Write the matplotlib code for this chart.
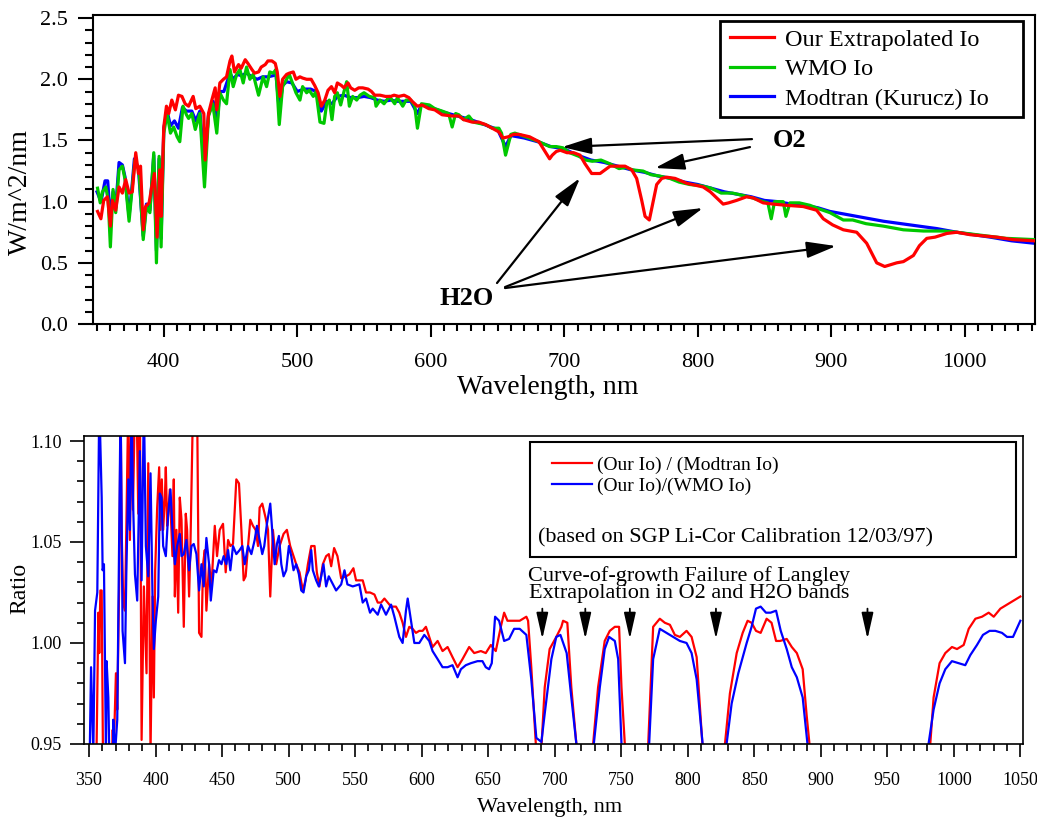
#!/usr/bin/env python3
"""
Extrapolated solar Io vs WMO / Modtran spectra, plus the ratio panel.
"""

import matplotlib
matplotlib.use('Agg')
import matplotlib.pyplot as plt
from matplotlib.ticker import MultipleLocator
from matplotlib.patches import Rectangle

plt.rcParams['font.family'] = ['Liberation Serif', 'DejaVu Serif']

# ---------------- top panel: irradiance, W/m^2/nm ----------------
our_nm = [350.4, 352.9, 355, 357.8, 360, 361.5, 364, 366.5, 369, 371.5, 374, 376.4, 379, 381,
          382.6, 384.6, 386.4, 389, 391, 393, 395, 397, 398, 400, 402, 403.7, 406, 408.7, 411,
          413.6, 416, 418.6, 422, 424, 427, 430, 431, 433.5, 436, 438.5, 439.7, 442, 444.7, 447,
          449.6, 451, 453, 456, 458, 461, 463, 466, 468, 471, 473, 476, 478, 481, 483.5, 485, 487,
          489, 492, 494, 497, 499, 502, 504, 507, 510.4, 513, 515.6, 518, 520.6, 523, 525.6, 528,
          530, 533, 535, 538, 540, 543, 546, 549, 553, 555.6, 558, 562, 566, 570, 572.5, 576, 580,
          583.6, 586, 590, 593.5, 598.5, 603, 608.5, 616, 621, 624.6, 631, 636, 641, 646, 651,
          654, 658, 662, 666, 674, 681, 685, 689, 691, 694, 697, 702, 707, 711.8, 715.5, 720.5,
          726.8, 734.3, 745.5, 750.5, 754.2, 758, 760.5, 763.7, 766.7, 769.2, 773, 776.7, 783,
          791.7, 804, 809.4, 814.2, 819, 823, 829, 836.6, 841.6, 849, 856.6, 866.6, 879, 889, 894,
          901, 909, 919, 926.5, 934, 940, 949, 954, 961.5, 966, 971.5, 977.7, 986.5, 994, 1004,
          1014, 1024, 1036, 1052]
our_io = [0.92, 0.86, 1.01, 1.04, 0.80, 1.01, 0.93, 1.12, 1.07, 1.18, 1.07, 1.08, 1.40, 1.23,
          1.29, 0.77, 0.96, 0.99, 1.12, 1.23, 0.71, 1.26, 0.88, 1.61, 1.78, 1.72, 1.83, 1.75, 1.87,
          1.86, 1.80, 1.78, 1.86, 1.76, 1.78, 1.72, 1.34, 1.72, 1.83, 1.93, 1.75, 1.97, 2.00, 2.02,
          2.15, 2.19, 2.06, 2.12, 2.09, 2.16, 2.13, 2.08, 2.05, 2.06, 2.10, 2.12, 2.15, 2.15, 2.13,
          2.06, 1.86, 2.00, 2.04, 2.05, 2.06, 2.00, 2.02, 2.01, 2.00, 2.00, 1.95, 1.89, 1.78, 1.83,
          1.91, 1.94, 1.89, 1.97, 1.95, 1.93, 1.97, 1.93, 1.91, 1.93, 1.93, 1.92, 1.90, 1.87, 1.87,
          1.86, 1.86, 1.87, 1.86, 1.87, 1.85, 1.82, 1.78, 1.79, 1.76, 1.75, 1.71, 1.70, 1.70, 1.67,
          1.65, 1.65, 1.63, 1.60, 1.57, 1.52, 1.53, 1.55, 1.55, 1.53, 1.49, 1.42, 1.35, 1.38, 1.41,
          1.42, 1.40, 1.40, 1.38, 1.31, 1.23, 1.23, 1.29, 1.29, 1.26, 1.19, 1.01, 0.88, 0.85, 1.01,
          1.14, 1.19, 1.20, 1.19, 1.15, 1.12, 1.08, 1.03, 0.98, 0.99, 1.01, 1.04, 1.03, 0.99, 0.98,
          0.97, 0.96, 0.93, 0.86, 0.81, 0.77, 0.75, 0.66, 0.50, 0.47, 0.50, 0.51, 0.56, 0.64, 0.70,
          0.71, 0.74, 0.75, 0.73, 0.72, 0.71, 0.69, 0.68]

wmo_nm = [350.4, 352.4, 354, 356.6, 358.4, 360, 362, 364, 366.5, 369, 371, 374, 376.4, 378.4,
          381.4, 384.6, 387, 389.6, 392.5, 394.5, 396.5, 398, 400, 402.5, 405, 407.4, 410, 412,
          414.4, 417, 418.6, 421, 423.6, 427, 430.5, 433.5, 436.7, 439.7, 442, 444.7, 447, 449.6,
          452, 454.6, 457, 459.5, 462, 464.5, 467, 471, 474.4, 477, 479.4, 482, 484, 486.5, 489,
          492, 494, 497, 499, 502, 504, 507, 509, 512, 514, 517, 520, 522, 524, 526, 528, 530,
          532.5, 535, 537, 539, 541.5, 544.5, 547, 550, 554, 558, 559, 562, 565, 569, 573, 575,
          579, 581.5, 585, 588, 590, 593, 599, 603, 608.5, 613.4, 616, 618.6, 621, 624.6, 628.5,
          632, 636, 641, 646, 651, 653, 656, 660, 663, 671, 681, 689, 694, 699, 704, 711, 716,
          721, 727.5, 734, 741, 746, 751, 759, 765, 771, 779, 786, 794, 802.5, 810, 817.5, 826,
          834, 841, 849, 852.5, 855, 857.5, 864, 866, 869, 876, 884, 891, 899, 909, 916, 926, 939,
          954, 969, 984, 994, 1009, 1031, 1052]
wmo_io = [1.11, 0.99, 1.08, 1.12, 1.01, 0.63, 1.10, 0.91, 1.26, 1.29, 1.18, 0.84, 1.12, 1.34,
          1.26, 0.69, 0.96, 0.91, 1.40, 0.50, 1.37, 0.63, 1.56, 1.72, 1.56, 1.61, 1.53, 1.49,
          1.78, 1.71, 1.68, 1.72, 1.59, 1.72, 1.12, 1.70, 1.80, 1.56, 1.89, 1.83, 1.80, 2.08,
          1.94, 2.04, 2.08, 1.97, 2.10, 2.00, 2.04, 1.87, 2.02, 1.94, 2.06, 2.05, 2.08, 1.63, 1.94,
          2.00, 2.04, 1.95, 1.89, 1.83, 1.94, 1.89, 1.91, 1.86, 1.90, 1.65, 1.64, 1.80, 1.83, 1.67,
          1.86, 1.89, 1.79, 1.90, 1.98, 1.78, 1.86, 1.83, 1.87, 1.89, 1.86, 1.85, 1.78, 1.83, 1.80,
          1.86, 1.80, 1.85, 1.78, 1.83, 1.83, 1.78, 1.60, 1.80, 1.79, 1.76, 1.74, 1.72, 1.61, 1.72,
          1.71, 1.67, 1.70, 1.65, 1.64, 1.63, 1.60, 1.60, 1.56, 1.38, 1.55, 1.56, 1.53, 1.49, 1.45,
          1.45, 1.44, 1.40, 1.37, 1.34, 1.33, 1.34, 1.31, 1.27, 1.28, 1.26, 1.25, 1.22, 1.21, 1.19,
          1.16, 1.14, 1.13, 1.11, 1.07, 1.07, 1.05, 1.03, 1.00, 0.99, 0.86, 1.00, 1.00, 0.88, 0.99,
          0.99, 0.97, 0.94, 0.91, 0.85, 0.85, 0.82, 0.80, 0.77, 0.76, 0.76, 0.75, 0.73, 0.70, 0.69]

mod_nm = [350, 353, 356, 358, 360, 362, 364, 366.5, 369, 371, 374, 376, 378, 381, 384.6, 387,
          389.6, 392.5, 394.5, 396.5, 398, 400, 402.5, 405, 408, 411, 414, 417, 421, 424, 427,
          430.5, 433.5, 437, 440, 442, 445, 449.6, 452, 455, 458, 462, 466, 470, 474, 478, 482,
          484, 486.5, 489, 492, 496, 500, 505, 510, 514, 518, 522, 526, 530, 535, 540, 545, 550,
          555, 560, 565, 570, 575, 580, 585, 590, 593, 600, 610, 620, 630, 640, 650, 656, 660,
          670, 680, 690, 700, 710, 720, 730, 740, 750, 760, 770, 780, 790, 800, 810, 820, 830,
          840, 850, 860, 870, 880, 890, 899, 919, 939, 959, 979, 994, 1019, 1035, 1052]
mod_io = [1.08, 1.00, 1.17, 1.17, 0.85, 1.08, 0.95, 1.32, 1.30, 1.20, 0.88, 1.10, 1.35, 1.27,
          0.72, 0.98, 0.93, 1.38, 0.60, 1.35, 0.70, 1.60, 1.74, 1.62, 1.66, 1.60, 1.77, 1.74,
          1.74, 1.66, 1.74, 1.30, 1.71, 1.82, 1.66, 1.90, 1.90, 2.05, 2.00, 2.04, 2.03, 2.05,
          2.02, 2.00, 2.02, 2.02, 2.03, 2.04, 1.75, 1.95, 1.98, 1.97, 1.90, 1.92, 1.92, 1.90,
          1.74, 1.82, 1.80, 1.86, 1.87, 1.85, 1.85, 1.86, 1.85, 1.83, 1.82, 1.83, 1.82, 1.82,
          1.82, 1.72, 1.79, 1.77, 1.73, 1.70, 1.67, 1.63, 1.59, 1.45, 1.54, 1.52, 1.49, 1.45,
          1.43, 1.38, 1.34, 1.32, 1.29, 1.26, 1.24, 1.21, 1.19, 1.16, 1.14, 1.11, 1.08, 1.06,
          1.04, 1.01, 1.00, 0.98, 0.97, 0.95, 0.92, 0.88, 0.84, 0.81, 0.78, 0.75, 0.71, 0.68, 0.66]

# ---------------- bottom panel: ratios ----------------
rmod_nm = [355.5, 357, 357.7, 358.5, 359.5, 360.5, 367, 367.8, 368.5, 370.2, 371.2, 372.7, 373.7,
           374.5, 375.7, 377, 378, 379.5, 380.7, 382, 383, 384.5, 385.7, 387, 388.2, 389.5, 391.2,
           393.2, 394.5, 396.2, 397.7, 398.7, 399.7, 401.2, 402.7, 403.7, 404.7, 405.7, 407, 407.7,
           408.7, 409.5, 410.7, 412.7, 413.7, 414.5, 415.7, 417, 418.2, 419.5, 421.2, 422.7, 423.7,
           425.2, 426.2, 428.2, 430.2, 431.2, 432.7, 434.5, 435.7, 437, 438.2, 440.2, 442, 444.5,
           446.2, 448.2, 450.7, 452.7, 454.5, 456.2, 458.2, 460.7, 462.7, 464.5, 466.2, 467.7,
           469.5, 471.2, 473.2, 475.2, 477, 478.2, 480.2, 482.7, 484.5, 486.2, 488.2, 490.7, 493.2,
           496.2, 498.7, 501.2, 503.2, 505.7, 508.2, 510.7, 512.7, 514.5, 517, 519.5, 521.2, 523.2,
           525.7, 528.2, 530.2, 532, 534.2, 536.7, 539.5, 543.2, 545.7, 548.7, 550.7, 555.7, 558.2,
           561.2, 564.5, 567, 569.5, 572, 574.5, 577, 580.7, 583.2, 585.7, 588.2, 590.7, 593.2,
           595.7, 598.2, 600.7, 603.2, 605.7, 608.2, 612, 615.7, 619.5, 623.2, 627, 630.7, 635.7,
           639.5, 644.5, 648.2, 652, 655.7, 659.5, 662, 664.5, 669.5, 673.7, 676.2, 678.7, 680,
           682.4, 686, 688, 690, 692.5, 696.2, 701.2, 705, 706.3, 709.5, 712.5, 716.3, 719, 726,
           728.9, 732.6, 737.6, 741.4, 745.2, 748.4, 750.2, 752.7, 756, 767, 770.3, 774, 779,
           782.8, 786.6, 790.3, 794.1, 799.1, 802.9, 806.7, 811, 814, 825, 828, 831.7, 836.8,
           841.3, 845, 848, 851.3, 854.8, 859.3, 863, 866.4, 869.4, 874.4, 878.2, 882, 886.4,
           889.4, 891.5, 895, 978, 982.3, 984.8, 989.3, 993.6, 998.6, 1002.4, 1007.4, 1011.2,
           1016.2, 1021.2, 1026.2, 1030, 1035, 1040, 1045, 1050]
rmod = [0.94, 1.015, 0.995, 1.026, 1.026, 0.94, 0.94, 0.957, 0.945, 0.985, 0.967, 1.031, 1.12,
        1.056, 1.020, 1.016, 1.056, 1.12, 1.051, 1.12, 1.066, 1.12, 1.12, 1.064, 1.12, 0.952,
        1.028, 0.985, 1.089, 0.945, 1.023, 0.973, 1.036, 1.067, 1.087, 1.056, 1.081, 1.056, 1.072,
        1.087, 1.058, 1.064, 1.076, 1.043, 1.081, 1.023, 1.056, 1.015, 1.072, 1.061, 1.008, 1.064,
        1.056, 1.023, 1.048, 1.12, 1.12, 1.12, 1.005, 1.003, 1.039, 1.046, 1.016, 1.039, 1.028,
        1.058, 1.043, 1.056, 1.059, 1.035, 1.051, 1.048, 1.049, 1.081, 1.079, 1.056, 1.031, 1.033,
        1.048, 1.061, 1.058, 1.056, 1.048, 1.067, 1.069, 1.062, 1.056, 1.023, 1.056, 1.039, 1.048,
        1.054, 1.056, 1.048, 1.044, 1.039, 1.035, 1.026, 1.031, 1.039, 1.048, 1.048, 1.035, 1.028,
        1.039, 1.043, 1.044, 1.038, 1.047, 1.043, 1.032, 1.033, 1.034, 1.037, 1.031, 1.031, 1.025,
        1.025, 1.024, 1.020, 1.020, 1.022, 1.020, 1.018, 1.018, 1.015, 1.010, 1.003, 1.008, 1.007,
        1.005, 1.006, 1.006, 1.008, 1.003, 0.998, 1.001, 0.996, 0.998, 0.993, 0.988, 0.992, 0.998,
        0.995, 0.996, 0.995, 0.999, 0.996, 1.008, 1.015, 1.011, 1.011, 1.011, 1.012, 1.013, 1.011,
        0.988, 0.948, 0.94, 0.948, 0.978, 0.997, 1.003, 1.008, 1.011, 1.010, 0.978, 0.95, 0.93,
        0.93, 0.95, 0.978, 1.001, 1.006, 1.008, 1.008, 0.978, 0.95, 0.93, 0.93, 0.95, 1.008, 1.012,
        1.010, 1.009, 1.004, 1.003, 1.006, 1.003, 0.993, 0.95, 0.93, 0.93, 0.95, 0.975, 0.995,
        1.005, 1.011, 1.010, 1.006, 1.005, 1.012, 1.010, 1.001, 1.001, 1.002, 0.998, 0.995, 0.987,
        0.964, 0.95, 0.92, 0.92, 0.95, 0.973, 0.990, 0.995, 0.998, 0.997, 0.999, 1.007, 1.012,
        1.013, 1.015, 1.013, 1.017, 1.019, 1.021, 1.023]

rwmo_nm = [350.5, 351.5, 353.2, 354.5, 356.2, 357.7, 359.5, 360.2, 361.2, 362.7, 363.2, 364.5,
           365.2, 368, 368.2, 369.5, 371.2, 372.7, 373.7, 375.2, 377, 378, 379.5, 380.7, 382, 383,
           384.5, 386.2, 388.2, 389.5, 391.2, 392.7, 394.5, 396.2, 397.7, 398.7, 400.2, 402, 403.2,
           404.5, 405.7, 407.7, 409.5, 411.2, 412.7, 414.5, 416.2, 418.2, 419.5, 421.2, 423.2,
           425.2, 427, 428.7, 430.7, 432.7, 434.5, 436.2, 438.2, 440.2, 441.5, 443.7, 445.7, 447.7,
           449.5, 451.2, 453.2, 454.5, 456.2, 458.2, 460.7, 463.2, 465.2, 467, 469.5, 472, 474.5,
           476.2, 478.2, 480.2, 481.7, 483.7, 486.2, 488.2, 489.5, 491.2, 492.7, 494.5, 496.2,
           498.2, 500.2, 502, 503.7, 505.7, 507.7, 509.5, 511.2, 513.2, 515.2, 517, 518.2, 520.7,
           522.7, 524.5, 526.2, 528.2, 530.2, 535.7, 539.5, 542, 544.2, 548.2, 553.2, 555.7, 558.2,
           561.2, 563.2, 567, 569.5, 573.2, 577, 579.5, 583.2, 585.7, 588.2, 589.5, 592, 594.5,
           598.2, 602, 605.7, 608.2, 612, 615.7, 619.5, 623.2, 627, 629.5, 633.2, 637, 642, 645.7,
           648.2, 650.7, 652.7, 655.2, 658.2, 662, 665.7, 669.5, 673.7, 678.7, 682.4, 686.2, 690,
           692.5, 697.5, 701.2, 704.3, 709, 712.5, 716.3, 719, 727, 729.4, 733.9, 737.6, 740.9,
           745.2, 747.7, 750.2, 753, 768, 771, 774, 779, 784, 789, 794.1, 799.1, 802.9, 806.7,
           811.2, 814, 826, 829.2, 833, 838, 844.3, 848, 851.3, 854.8, 858.8, 862.3, 866.4, 869.9,
           874.4, 878.2, 882, 886.4, 890, 894, 977, 981, 984.8, 989.3, 993.6, 998.6, 1003.6,
           1008.6, 1012.4, 1017.4, 1021.9, 1026.9, 1031.2, 1036.2, 1040, 1044.5, 1050]
rwmo = [0.945, 0.988, 0.945, 1.016, 1.025, 1.12, 1.072, 1.036, 1.039, 0.945, 0.991, 0.973, 0.945,
        0.945, 0.962, 0.945, 0.962, 1.056, 1.12, 1.006, 0.99, 1.034, 1.081, 1.056, 1.12, 1.072,
        1.034, 1.021, 1.095, 1.031, 1.12, 1.048, 1.033, 1.084, 1.023, 0.997, 1.011, 1.023, 1.074,
        1.072, 1.048, 1.043, 1.064, 1.076, 1.056, 1.039, 1.048, 1.054, 1.043, 1.044, 1.051, 1.036,
        1.048, 1.049, 1.044, 1.026, 1.039, 1.028, 1.052, 1.039, 1.021, 1.036, 1.035, 1.041, 1.039,
        1.043, 1.039, 1.046, 1.036, 1.048, 1.044, 1.046, 1.048, 1.039, 1.048, 1.044, 1.051, 1.058,
        1.051, 1.044, 1.048, 1.059, 1.069, 1.051, 1.039, 1.049, 1.053, 1.039, 1.033, 1.036, 1.048,
        1.043, 1.036, 1.039, 1.034, 1.026, 1.025, 1.033, 1.036, 1.046, 1.036, 1.031, 1.028, 1.033,
        1.039, 1.028, 1.033, 1.026, 1.029, 1.036, 1.029, 1.028, 1.029, 1.020, 1.022, 1.015, 1.017,
        1.014, 1.019, 1.014, 1.019, 1.013, 1.003, 1.000, 1.016, 1.022, 1.011, 1.000, 1.000, 1.004,
        1.001, 0.996, 0.992, 0.988, 0.988, 0.989, 0.983, 0.987, 0.989, 0.990, 0.991, 0.991, 0.988,
        0.987, 0.990, 1.013, 1.011, 1.001, 1.002, 1.007, 1.007, 1.004, 0.982, 0.953, 0.951, 0.965,
        0.992, 1.003, 1.004, 0.995, 0.973, 0.95, 0.93, 0.93, 0.95, 0.978, 0.997, 1.003, 1.001,
        0.992, 0.95, 0.93, 0.93, 0.95, 0.992, 1.007, 1.005, 1.003, 1.001, 1.000, 0.995, 0.982,
        0.95, 0.93, 0.93, 0.95, 0.970, 0.985, 1.000, 1.008, 1.017, 1.018, 1.015, 1.015, 1.016,
        1.006, 0.997, 0.988, 0.983, 0.973, 0.95, 0.92, 0.92, 0.95, 0.967, 0.980, 0.987, 0.991,
        0.990, 0.989, 0.994, 0.999, 1.004, 1.006, 1.006, 1.005, 1.003, 1.003, 1.011]

# wavelengths of the O2 / H2O band markers in the ratio panel
band_nm = [690.7, 723, 756.5, 821.2, 935.1]

RED = '#ff0000'
GREEN = '#00c800'
BLUE = '#0000ff'


def style_axes(ax, xmajor, ymajor, yminor, lw, xlen, ylen, size, xpad, ypad):
    """Boxed frame with outward ticks like the original plotting package."""
    for sp in ax.spines.values():
        sp.set_linewidth(lw)
    ax.xaxis.set_major_locator(MultipleLocator(xmajor))
    ax.xaxis.set_minor_locator(MultipleLocator(10))
    ax.yaxis.set_major_locator(MultipleLocator(ymajor))
    ax.yaxis.set_minor_locator(MultipleLocator(yminor))
    ax.tick_params(axis='both', which='both', direction='out', width=lw,
                   top=False, right=False, labelsize=size)
    ax.tick_params(axis='x', which='major', length=xlen, pad=xpad)
    ax.tick_params(axis='x', which='minor', length=xlen * 0.55)
    ax.tick_params(axis='y', which='major', length=ylen, pad=ypad)
    ax.tick_params(axis='y', which='minor', length=ylen * 0.5)


def draw_top(fig):
    ax = fig.add_axes([0.0897, 0.6034, 0.9084, 0.3782])
    ax.plot(mod_nm, mod_io, color=BLUE, lw=2.3, label='Modtran (Kurucz) Io', zorder=2)
    ax.plot(wmo_nm, wmo_io, color=GREEN, lw=2.3, label='WMO Io', zorder=3)
    ax.plot(our_nm, our_io, color=RED, lw=2.3, label='Our Extrapolated Io', zorder=4)
    ax.set_xlim(347.0, 1052.6)
    ax.set_ylim(0, 2.525)
    style_axes(ax, 100, 0.5, 0.1, 1.5, 9, 11, 16, 12, 7)
    ax.yaxis.set_major_formatter(matplotlib.ticker.FormatStrFormatter('%.1f'))

    ax.set_xlabel('Wavelength, nm', fontsize=20)
    ax.xaxis.set_label_coords(0.483, -0.165)
    ax.set_ylabel('W/m^2/nm', fontsize=20)
    ax.yaxis.set_label_coords(-0.064, 0.427)

    # legend frame drawn separately so it matches the original box size
    ax.add_patch(Rectangle((0.6656, 0.6699), 0.3217, 0.3107, transform=ax.transAxes,
                           facecolor='white', edgecolor='black', lw=2.0, zorder=5))
    handles, labels = ax.get_legend_handles_labels()
    order = [2, 1, 0]
    leg = ax.legend([handles[i] for i in order], [labels[i] for i in order],
                    loc='upper left', bbox_to_anchor=(0.676, 0.955), borderaxespad=0,
                    fontsize=17.5, handlelength=1.8, handletextpad=0.45, labelspacing=0.3,
                    borderpad=0, frameon=False)
    leg.set_zorder(6)

    arrow = dict(arrowstyle='-|>,head_length=1.8,head_width=0.5', color='black',
                 lw=1.6, mutation_scale=10, shrinkA=0, shrinkB=0)
    ax.text(869, 1.503, 'O2', fontsize=19, fontweight='bold', ha='center', va='center')
    ax.annotate('', xy=(698.3, 1.446), xytext=(840.6, 1.511), arrowprops=arrow)
    ax.annotate('', xy=(768.0, 1.275), xytext=(839.1, 1.446), arrowprops=arrow)
    ax.text(627, 0.21, 'H2O', fontsize=19, fontweight='bold', ha='center', va='center')
    ax.annotate('', xy=(711.8, 1.193), xytext=(649.6, 0.335), arrowprops=arrow)
    ax.annotate('', xy=(803.9, 0.948), xytext=(655.6, 0.302), arrowprops=arrow)
    ax.annotate('', xy=(903.6, 0.637), xytext=(655.6, 0.294), arrowprops=arrow)


def draw_bottom(fig):
    ax = fig.add_axes([0.081, 0.0894, 0.9055, 0.377])
    ax.plot(rmod_nm, rmod, color=RED, lw=1.6, label='(Our Io) / (Modtran Io)')
    ax.plot(rwmo_nm, rwmo, color=BLUE, lw=1.6, label='(Our Io)/(WMO Io)')
    ax.set_xlim(346.2, 1052)
    ax.set_ylim(0.95, 1.1025)
    style_axes(ax, 50, 0.05, 0.01, 1.2, 9.4, 10, 13, 11, 6)
    ax.yaxis.set_major_formatter(matplotlib.ticker.FormatStrFormatter('%.2f'))

    ax.set_xlabel('Wavelength, nm', fontsize=16)
    ax.xaxis.set_label_coords(0.496, -0.175)
    ax.set_ylabel('Ratio', fontsize=17)
    ax.yaxis.set_label_coords(-0.0575, 0.506)

    # legend box with the calibration note inside
    ax.add_patch(Rectangle((0.475, 0.607), 0.5175, 0.3735, transform=ax.transAxes,
                           fill=True, facecolor='white', edgecolor='black', lw=1.5, zorder=5))
    ax.legend(loc='upper left', bbox_to_anchor=(0.4984, 0.935), borderaxespad=0,
              borderpad=0, frameon=False, fontsize=14, handlelength=2.05,
              handletextpad=0.25, labelspacing=0.2).set_zorder(6)
    ax.text(0.4835, 0.669, '(based on SGP Li-Cor Calibration 12/03/97)', transform=ax.transAxes,
            fontsize=16, ha='left', va='center', zorder=6)

    ax.text(800.9, 1.029, 'Curve-of-growth Failure of Langley\nExtrapolation in O2 and H2O bands',
            fontsize=16, ha='center', va='center', linespacing=0.88)
    arrow = dict(arrowstyle='-|>,head_length=1.6,head_width=0.36', color='black',
                 lw=1.3, mutation_scale=10, shrinkA=0, shrinkB=0)
    for nm in band_nm:
        ax.annotate('', xy=(nm, 1.002), xytext=(nm, 1.017), arrowprops=arrow)


def main():
    fig = plt.figure(figsize=(10.37, 8.17), dpi=100)
    draw_top(fig)
    draw_bottom(fig)
    fig.savefig('out.png', dpi=100)
    print("Saved out.png")


if __name__ == '__main__':
    main()
